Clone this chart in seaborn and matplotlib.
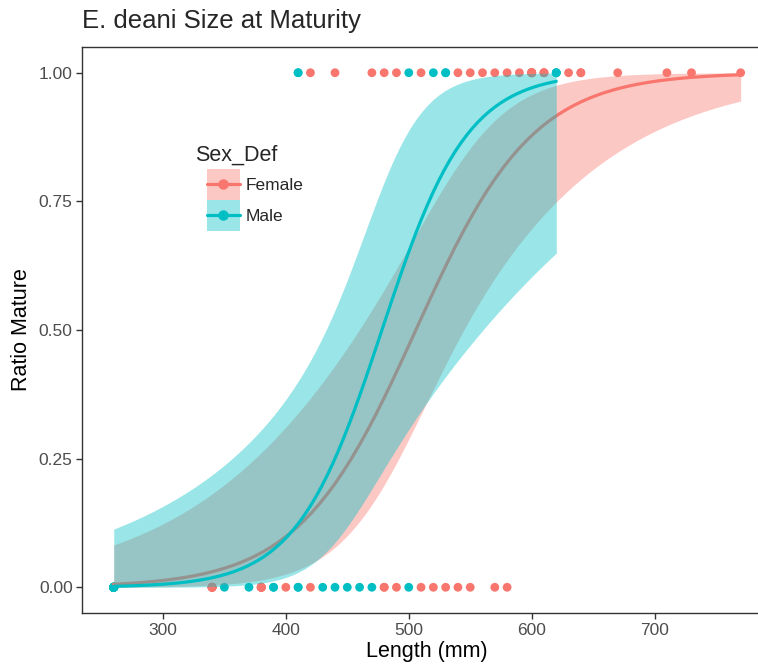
import numpy as np
import pandas as pd
import matplotlib
matplotlib.use("Agg")
import matplotlib.pyplot as plt
import seaborn as sns
from matplotlib.patches import Patch
from matplotlib.lines import Line2D
from matplotlib.legend_handler import HandlerLine2D

# Lengths (mm), with the number of fish at each dot
# (dots overlap, so counts are estimated from the fitted curves)
female_mature = [420, 440, 470, 480, 490, 510, 540, 550, 560, 570, 580, 590,
                 600, 610, 630, 640, 670, 710, 730, 770]
female_mature_n = [1, 1, 1, 1, 1, 1, 1, 1, 1, 1, 1, 1,
                   7, 3, 1, 2, 1, 1, 1, 1]
female_immature = [260, 340, 380, 400, 420, 480, 490, 510, 520, 530, 540, 550,
                   570, 580]
female_immature_n = [1, 7, 7, 1, 1, 2, 1, 1, 1, 1, 1, 1, 1, 1]
male_mature = [410, 500, 520, 530, 620]
male_mature_n = [2, 1, 1, 2, 3]
male_immature = [260, 350, 370, 390, 410, 430, 440, 450, 460, 470, 500]
male_immature_n = [35, 1, 1, 2, 2, 1, 1, 1, 1, 1, 1]

sexes = ["Female", "Male"]
palette = {"Female": "#F8766D", "Male": "#00BFC4"}
x_ticks = [300, 400, 500, 600, 700]
y_ticks = [0.0, 0.25, 0.5, 0.75, 1.0]

rows = []
for sex, mat, mat_n, imm, imm_n in [
        ("Female", female_mature, female_mature_n, female_immature, female_immature_n),
        ("Male", male_mature, male_mature_n, male_immature, male_immature_n)]:
    for l, k in zip(mat, mat_n):
        rows += [(l, 1.0, sex)] * k
    for l, k in zip(imm, imm_n):
        rows += [(l, 0.0, sex)] * k
data = pd.DataFrame(rows, columns=["Length", "Mature", "Sex_Def"])


def fit_logit(x, y):
    # IRLS for a binomial glm, like geom_smooth(method="glm")
    X = np.column_stack([np.ones_like(x), x / 100.0])
    b = np.zeros(2)
    for _ in range(100):
        eta = X @ b
        p = 1 / (1 + np.exp(-eta))
        w = p * (1 - p)
        z = eta + (y - p) / w
        b = np.linalg.solve(X.T @ (w[:, None] * X), X.T @ (w * z))
    p = 1 / (1 + np.exp(-(X @ b)))
    w = p * (1 - p)
    cov = np.linalg.inv(X.T @ (w[:, None] * X))
    return b, cov


def inv_logit(v):
    return 1 / (1 + np.exp(-v))


class CenteredLine(HandlerLine2D):
    # put the legend line in the middle of the fill box
    def create_artists(self, legend, orig_handle, xdescent, ydescent, width,
                       height, fontsize, trans):
        arts = super().create_artists(legend, orig_handle, xdescent, ydescent,
                                      width, height, fontsize, trans)
        for a in arts:
            a.set_ydata(np.asarray(a.get_ydata()) - ydescent / 2)
        return arts


sns.set_theme(style="white")
plt.rcParams["font.family"] = ["Liberation Sans", "DejaVu Sans"]

fig = plt.figure(figsize=(7.58, 6.64), dpi=100)
ax = fig.add_axes([82.4 / 758, 1 - 613 / 664, (772 - 82.4) / 758, (613 - 47) / 664])

sns.scatterplot(data=data, x="Length", y="Mature", hue="Sex_Def", palette=palette,
                hue_order=sexes, s=40, edgecolor="none", legend=False, ax=ax, zorder=2)

for sex in sexes:
    d = data[data["Sex_Def"] == sex]
    x = d["Length"].to_numpy(float)
    y = d["Mature"].to_numpy(float)
    b, cov = fit_logit(x, y)
    grid = np.linspace(x.min(), x.max(), 80)
    G = np.column_stack([np.ones_like(grid), grid / 100.0])
    eta = G @ b
    se = np.sqrt(np.einsum("ij,jk,ik->i", G, cov, G))
    ax.fill_between(grid, inv_logit(eta - 1.96 * se), inv_logit(eta + 1.96 * se),
                    color=palette[sex], alpha=0.4, linewidth=0, zorder=3)
    sns.lineplot(x=grid, y=inv_logit(eta), color=palette[sex], linewidth=2.3,
                 ax=ax, zorder=3)

ax.set_xlim(234.5, 795.5)
ax.set_ylim(-0.05, 1.05)
ax.set_xticks(x_ticks)
ax.set_yticks(y_ticks)
ax.set_yticklabels([f"{v:.2f}" for v in y_ticks])
ax.tick_params(axis="both", length=4, width=1, color="#333333", labelsize=12.5,
               labelcolor="#4D4D4D", pad=3, bottom=True, left=True)
for sp in ax.spines.values():
    sp.set_color("#333333")
    sp.set_linewidth(1)
ax.set_xlabel("Length (mm)", fontsize=15.5, color="black", labelpad=2)
ax.set_ylabel("Ratio Mature", fontsize=15.5, color="black", labelpad=5)
fig.text(82 / 758, 1 - 21 / 664, "E. deani Size at Maturity", fontsize=18.5,
         va="center", ha="left")

handles = [(Patch(facecolor=palette[s], alpha=0.4, edgecolor="none"),
            Line2D([], [], color=palette[s], linewidth=2.3, marker="o", markersize=6.5))
           for s in sexes]
fig.text(195 / 758, 1 - 155 / 664, "Sex_Def", fontsize=15.5, va="center", ha="left")
ax.legend(handles, sexes, loc="upper left",
          bbox_to_anchor=(207 / 758, 1 - 169 / 664),
          bbox_transform=fig.transFigure, frameon=False, fontsize=12.5,
          handlelength=1.9, handleheight=2.37, labelspacing=0,
          handletextpad=0.3, borderpad=0, borderaxespad=0,
          handler_map={Line2D: CenteredLine()})

fig.savefig("out.png", dpi=100)
